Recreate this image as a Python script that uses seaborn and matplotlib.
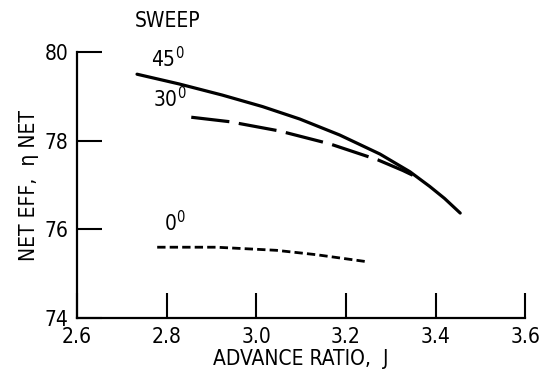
import matplotlib
matplotlib.use("Agg")
import seaborn as sns
import matplotlib.pyplot as plt

# sweep curves
j_45 = [2.734, 2.828, 2.924, 3.014, 3.097, 3.186, 3.276, 3.343, 3.387, 3.42, 3.455]
eff_45 = [79.50, 79.28, 79.03, 78.77, 78.49, 78.13, 77.70, 77.30, 76.97, 76.70, 76.37]

j_30 = [2.855, 2.94, 3.052, 3.164, 3.271, 3.327, 3.36]
eff_30 = [78.53, 78.43, 78.22, 77.93, 77.57, 77.33, 77.17]

j_0 = [2.779, 2.911, 3.045, 3.135, 3.242]
eff_0 = [75.60, 75.60, 75.53, 75.43, 75.28]

x_ticks = [2.6, 2.8, 3.0, 3.2, 3.4, 3.6]
x_labels = ["2.6", "2.8", "3.0", "3.2", "3.4", "3.6"]
y_ticks = [74, 76, 78, 80]

sns.set_style("ticks")
plt.rcParams["font.family"] = ["DejaVu Sans"]
plt.rcParams["font.stretch"] = "condensed"
plt.rcParams["text.color"] = "black"
plt.rcParams["axes.labelcolor"] = "black"
plt.rcParams["xtick.color"] = "black"
plt.rcParams["ytick.color"] = "black"

fig = plt.figure(figsize=(5.42, 3.77), dpi=100)
ax = fig.add_axes([0.142, 0.156, 0.827, 0.706])

sns.lineplot(x=j_45, y=eff_45, ax=ax, color="black", lw=2.3, sort=False)
sns.lineplot(x=j_30, y=eff_30, ax=ax, color="black", lw=2.3, sort=False,
             linestyle=(0, (12, 3)))
sns.lineplot(x=j_0, y=eff_0, ax=ax, color="black", lw=2.0, sort=False,
             linestyle=(0, (3, 1.5)))

ax.set_xlim(2.6, 3.6)
ax.set_ylim(74, 80)
ax.set_xticks(x_ticks)
ax.set_xticklabels(x_labels)
ax.set_yticks(y_ticks)
ax.tick_params(direction="in", length=18, width=1.5, labelsize=15)
ax.tick_params(axis="x", pad=6)
ax.tick_params(axis="y", pad=6)
sns.despine(ax=ax)
for s in ["left", "bottom"]:
    ax.spines[s].set_linewidth(1.6)
    ax.spines[s].set_color("black")

ax.set_xlabel("ADVANCE RATIO,  J", fontsize=15, labelpad=2)
ax.set_ylabel("NET EFF,  \u03b7 NET", fontsize=15, labelpad=4)

ax.text(2.73, 80.7, "SWEEP", fontsize=15, ha="left", va="center", clip_on=False)
ax.text(2.765, 79.85, "45$^{0}$", fontsize=15, ha="left", va="center")
ax.text(2.77, 78.95, "30$^{0}$", fontsize=15, ha="left", va="center")
ax.text(2.795, 76.15, "0$^{0}$", fontsize=15, ha="left", va="center")

fig.savefig("out.png", dpi=100)
